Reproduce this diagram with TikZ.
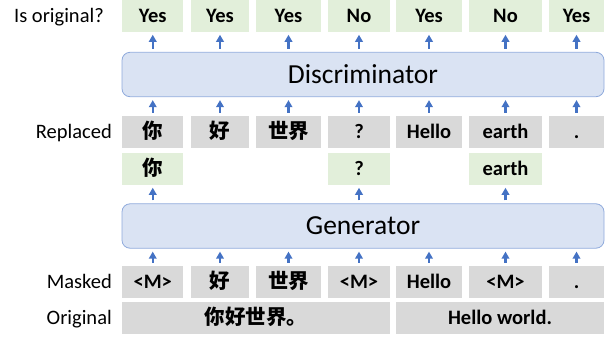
\documentclass[tikz,border=0pt]{standalone}
\usepackage{fontspec}
\setmainfont{Carlito}
\newfontfamily\cjk{Noto Sans CJK SC}
\usetikzlibrary{arrows.meta}

\definecolor{tokgreen}{HTML}{E2EFDA}
\definecolor{tokgray}{HTML}{D9D9D9}
\definecolor{modelfill}{HTML}{DAE3F3}
\definecolor{modeledge}{HTML}{8FAADC}
\definecolor{arrowblue}{HTML}{4472C4}

\tikzset{
  token/.style={minimum height=31.5pt, inner sep=0pt, text height=17.8pt, text depth=4pt,
    font=\fontsize{20.5}{22}\selectfont\bfseries},
  kept/.style={token, fill=tokgreen},
  plain/.style={token, fill=tokgray},
  model/.style={draw=modeledge, fill=modelfill, rounded corners=8pt, line width=0.8pt,
    minimum width=482pt, minimum height=44.4pt, inner sep=0pt, font=\fontsize{27.5}{29}\selectfont},
  rowlabel/.style={anchor=east, inner sep=0pt, text height=17.8pt, text depth=4pt,
    font=\fontsize{20.5}{22}\selectfont},
  up/.style={draw=arrowblue, line width=2.3pt, -{Triangle[length=7pt,width=7.5pt]},
    shorten <=3pt, shorten >=3pt}
}

\begin{document}
\begin{tikzpicture}[x=1pt,y=-1pt]
\useasboundingbox (0,0) rectangle (611,338);

% the two models
\node[model] (disc) at (363,74.5) {Discriminator};
\node[model] (gen) at (363,226) {Generator};

% token rows
\foreach \n/\x/\w/\t in {1/152.75/61/Yes, 2/220/58/Yes, 3/288.5/65/Yes, 4/359/62/No,
    5/429/66/Yes, 6/505.5/73/No, 7/576.5/55/Yes}
  \node[kept, minimum width=\w pt] (o\n) at (\x,15.8) {\t};

\foreach \n/\x/\w/\t in {1/152.75/61/{\cjk 你}, 2/220/58/{\cjk 好}, 3/288.5/65/{\cjk 世界},
    4/359/62/?, 5/429/66/Hello, 6/505.5/73/earth, 7/576.5/55/.}
  \node[plain, minimum width=\w pt] (r\n) at (\x,131.8) {\t};

\foreach \n/\x/\w/\t in {1/152.75/61/{\cjk 你}, 4/359/62/?, 6/505.5/73/earth}
  \node[kept, minimum width=\w pt] (g\n) at (\x,168.8) {\t};

\foreach \n/\x/\w/\t in {1/152.75/61/<M>, 2/220/58/{\cjk 好}, 3/288.5/65/{\cjk 世界},
    4/359/62/<M>, 5/429/66/Hello, 6/505.5/73/<M>, 7/576.5/55/.}
  \node[plain, minimum width=\w pt] (m\n) at (\x,281.8) {\t};

\node[plain, minimum width=268pt] (zh) at (256,317.8) {\cjk 你好世界。};
\node[plain, minimum width=208pt] (en) at (500,317.8) {Hello world.};

% row labels
\node[rowlabel] (lo) at (104,15.8) {Is original?};
\node[rowlabel] (lr) at (112,131.8) {Replaced};
\node[rowlabel] (lm) at (112,281.8) {Masked};
\node[rowlabel] (lg) at (112,317.8) {Original};

% arrows
\foreach \n in {1,...,7} {
  \draw[up] (disc.north -| o\n) -- (o\n);
  \draw[up] (r\n) -- (r\n |- disc.south);
  \draw[up] (m\n) -- (m\n |- gen.south);
}
\foreach \n in {1,4,6}
  \draw[up] (gen.north -| g\n) -- (g\n);

\end{tikzpicture}
\end{document}
